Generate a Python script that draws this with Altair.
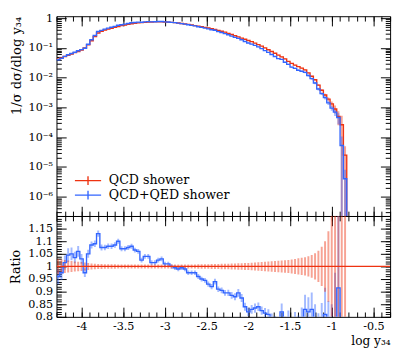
import altair as alt
import numpy as np
import pandas as pd

# ---------------- data ----------------
series_names = ["QCD shower", "QCD+QED shower"]
series_colors = ["#ee3311", "#3366ff"]

first_edge = -4.3
bin_width = 0.04
x_domain = [-4.3, -0.3]
y_domain_top = [2.26e-7, 1.16]
y_domain_ratio = [0.8, 1.2]

# 1/sigma dsigma/dlog y34, QCD shower (per bin)
qcd = [0.0417, 0.0457, 0.0513, 0.0562, 0.0617, 0.0692, 0.0759, 0.0851, 0.100, 0.126,
       0.174, 0.240, 0.316, 0.363, 0.398, 0.427, 0.457, 0.490, 0.525, 0.562,
       0.589, 0.617, 0.646, 0.668, 0.692, 0.708, 0.724, 0.733, 0.741, 0.746,
       0.750, 0.748, 0.741, 0.733, 0.724, 0.708, 0.684, 0.661, 0.638, 0.617,
       0.589, 0.562, 0.537, 0.513, 0.490, 0.468, 0.442, 0.417, 0.389, 0.363,
       0.339, 0.309, 0.282, 0.257, 0.234, 0.214, 0.195, 0.178, 0.162, 0.145,
       0.129, 0.115, 0.100, 0.0871, 0.0759, 0.0661, 0.0575, 0.0501, 0.0427, 0.0355,
       0.0302, 0.0263, 0.0234, 0.0209, 0.0182, 0.0145, 0.0112, 0.00851, 0.00562, 0.00380,
       0.00263, 0.00191, 0.00132, 0.000891, 0.000501, 0.000263, 0.0000251]

# ratio (QCD+QED) / QCD per bin
ratio_qed = [0.96, 0.975, 1.015, 1.045, 1.05, 1.035, 1.06, 1.03, 0.975, 1.05,
             1.085, 1.09, 1.13, 1.075, 1.075, 1.08, 1.08, 1.085, 1.10, 1.07,
             1.07, 1.075, 1.08, 1.065, 1.06, 1.025, 1.04, 1.04, 1.015, 1.015,
             1.025, 1.03, 1.01, 1.01, 1.0, 0.995, 0.99, 0.995, 0.99, 0.975,
             0.975, 0.975, 0.96, 0.95, 0.945, 0.93, 0.92, 0.94, 0.91, 0.905,
             0.895, 0.895, 0.885, 0.88, 0.895, 0.875, 0.84, 0.82, 0.83, 0.835,
             0.84, 0.825, 0.815, 0.81, 0.79, 0.78, 0.76, 0.82, 0.77, 0.79,
             0.75, 0.78, 0.76, 0.79, 0.83, 0.82, 0.83, 0.78, 0.74, 0.77,
             0.81, 0.75, 0.72, 0.78, 0.915, 0.2, 0.16]

# relative statistical errors
qcd_err = [0.030, 0.028, 0.026, 0.024, 0.022, 0.020, 0.019, 0.018, 0.016, 0.014,
           0.012, 0.011, 0.010, 0.010, 0.009, 0.009, 0.009, 0.009, 0.008, 0.008,
           0.008, 0.008, 0.008, 0.008, 0.008, 0.008, 0.008, 0.008, 0.008, 0.008,
           0.008, 0.008, 0.008, 0.008, 0.008, 0.008, 0.008, 0.008, 0.008, 0.008,
           0.008, 0.008, 0.009, 0.009, 0.009, 0.009, 0.010, 0.010, 0.010, 0.011,
           0.011, 0.011, 0.012, 0.012, 0.013, 0.013, 0.014, 0.014, 0.015, 0.016,
           0.017, 0.018, 0.019, 0.020, 0.021, 0.022, 0.023, 0.024, 0.025, 0.026,
           0.028, 0.030, 0.032, 0.034, 0.036, 0.040, 0.045, 0.052, 0.062, 0.078,
           0.10, 0.14, 0.20, 0.30, 0.50, 1.0, 1.0]
qed_err = [0.032, 0.030, 0.028, 0.026, 0.024, 0.022, 0.020, 0.019, 0.017, 0.015,
           0.013, 0.012, 0.011, 0.011, 0.010, 0.010, 0.010, 0.010, 0.009, 0.009,
           0.009, 0.009, 0.009, 0.009, 0.009, 0.009, 0.009, 0.009, 0.009, 0.009,
           0.009, 0.009, 0.009, 0.009, 0.009, 0.009, 0.009, 0.009, 0.009, 0.009,
           0.009, 0.009, 0.010, 0.010, 0.010, 0.011, 0.011, 0.012, 0.012, 0.013,
           0.013, 0.014, 0.015, 0.016, 0.017, 0.018, 0.019, 0.020, 0.021, 0.022,
           0.020, 0.020, 0.025, 0.025, 0.030, 0.030, 0.035, 0.040, 0.040, 0.045,
           0.050, 0.050, 0.060, 0.060, 0.070, 0.070, 0.080, 0.090, 0.10, 0.11,
           0.13, 0.15, 0.18, 0.25, 0.40, 1.0, 1.0]

x_major = [-4.0, -3.5, -3.0, -2.5, -2.0, -1.5, -1.0, -0.5]
x_minor = [round(-4.3 + 0.1 * k, 2) for k in range(41)]
y_major_top = [1e-6, 1e-5, 1e-4, 1e-3, 1e-2, 1e-1, 1.0]
y_minor_top = [m * 10.0 ** e for e in range(-7, 1) for m in range(2, 10)
               if y_domain_top[0] <= m * 10.0 ** e <= y_domain_top[1]]
r_major = [round(0.8 + 0.05 * k, 2) for k in range(9)]
r_minor = [round(0.8 + 0.01 * k, 2) for k in range(41)]

# ---------------- tables ----------------
n = len(qcd)
qcd_a = np.array(qcd)
rat_a = np.array(ratio_qed)
qed_a = qcd_a * rat_a
e_qcd = np.array(qcd_err)
e_qed = np.array(qed_err)
lo_edge = first_edge + bin_width * np.arange(n)
centers = lo_edge + bin_width / 2
edges = first_edge + bin_width * np.arange(n + 1)
TINY = 1e-10

def step_rows(vals, name, floor):
    xs = list(edges) + [edges[-1]]
    ys = list(vals) + [vals[-1], floor]
    return pd.DataFrame({"x": xs, "y": ys, "series": name, "ord": range(len(xs))})

def err_rows(vals, err, name):
    return pd.DataFrame({"x": centers,
                         "y": np.maximum(vals * (1 - err), TINY),
                         "y2": vals * (1 + err),
                         "series": name})

# top panel: blue drawn over red
top_steps = pd.concat([step_rows(qcd_a, series_names[0], TINY),
                       step_rows(qed_a, series_names[1], TINY)])
top_errs = pd.concat([err_rows(qcd_a, e_qcd, series_names[0]),
                      err_rows(qed_a, e_qed, series_names[1])])

# ratio panel: red reference line drawn over blue
r_blue = pd.DataFrame({"x": list(edges), "y": list(rat_a) + [rat_a[-1]],
                       "series": series_names[1], "ord": range(n + 1)})
r_red = pd.DataFrame({"x": x_domain, "y": [1.0, 1.0],
                      "series": series_names[0], "ord": [0, 1]})
r_steps = pd.concat([r_blue, r_red])
r_errs = pd.concat([err_rows(rat_a, e_qed, series_names[1]),
                    err_rows(np.ones(n), e_qcd, series_names[0])])

# ---------------- helpers ----------------
FONT = "DejaVu Serif"
xs = alt.Scale(domain=x_domain, nice=False, zero=False)
ys_top = alt.Scale(type="log", domain=y_domain_top, nice=False)
ys_rat = alt.Scale(domain=y_domain_ratio, nice=False, zero=False)
cscale = alt.Scale(domain=series_names, range=series_colors)

MAJ, MIN = 10, 5

def ax(orient, values, size, **kw):
    base = dict(orient=orient, values=values, tickSize=size, offset=-size,
                domain=False, grid=False, ticks=True, tickColor="black",
                tickWidth=1)
    if "labels" not in kw:
        base["labels"] = False
    if "title" not in kw:
        base["title"] = None
    base.update(kw)
    return alt.Axis(**base)

top_y_label = ("datum.value >= 1 ? '1' : '10' + "
               "['\u2070','\u207b\u00b9','\u207b\u00b2','\u207b\u00b3','\u207b\u2074',"
               "'\u207b\u2075','\u207b\u2076','\u207b\u2077'][round(-log(datum.value)/LN10)]")

legend_def = alt.Legend(orient="none", legendX=26, legendY=163,
                        title=None, symbolType="M-3,0H3M0,-1V1",
                        symbolSize=81, symbolStrokeWidth=1.4, symbolOpacity=1,
                        labelOffset=15, rowPadding=0, padding=0,
                        labelFont=FONT, labelFontSize=13,
                        labelColor="black")

# ---------------- top panel ----------------
t_err = alt.Chart(top_errs).mark_rule(strokeWidth=2, opacity=0.45, clip=True).encode(
    x=alt.X("x:Q", scale=xs, axis=ax("bottom", x_major, MAJ)),
    y=alt.Y("y:Q", scale=ys_top,
            axis=ax("left", y_major_top, MAJ, labels=True, labelExpr=top_y_label,
                    labelPadding=4, labelOverlap=False, labelFontSize=11.5,
                    title="1/\u03c3 d\u03c3/dlog y\u2083\u2084",
                    titleAnchor="end", titlePadding=5, titleFontSize=13.5)),
    y2="y2:Q",
    color=alt.Color("series:N", scale=cscale, legend=legend_def),
)
t_line = alt.Chart(top_steps).mark_line(interpolate="step-after", strokeWidth=1.4, clip=True).encode(
    x=alt.X("x:Q", scale=xs, axis=ax("bottom", x_minor, MIN)),
    y=alt.Y("y:Q", scale=ys_top, axis=ax("left", y_minor_top, MIN)),
    order="ord:Q",
    color=alt.Color("series:N", scale=cscale, legend=legend_def),
)
t_h1 = alt.Chart(top_steps).mark_point(opacity=0).encode(
    x=alt.X("x:Q", scale=xs, axis=ax("top", x_major, MAJ)),
    y=alt.Y("y:Q", scale=ys_top, axis=ax("right", y_major_top, MAJ)),
)
t_h2 = alt.Chart(top_steps).mark_point(opacity=0).encode(
    x=alt.X("x:Q", scale=xs, axis=ax("top", x_minor, MIN)),
    y=alt.Y("y:Q", scale=ys_top, axis=ax("right", y_minor_top, MIN)),
)
top = alt.layer(t_err, t_line, t_h1, t_h2).resolve_axis(
    x="independent", y="independent").properties(width=344, height=206)

# ---------------- ratio panel ----------------
r_err_ch = alt.Chart(r_errs).mark_rule(strokeWidth=2, opacity=0.45, clip=True).encode(
    x=alt.X("x:Q", scale=xs,
            axis=ax("bottom", x_major, MAJ, labels=True,
                    labelExpr="replace(format(datum.value, '.1~f'), '\u2212', '-')",
                    labelPadding=4, labelFlush=False, labelFontSize=11.5,
                    title="log y\u2083\u2084", titleAnchor="end", titlePadding=3,
                    titleFontSize=12.5)),
    y=alt.Y("y:Q", scale=ys_rat,
            axis=ax("left", r_major, MAJ, labels=True,
                    labelExpr="datum.value > 1.19 ? '' : format(datum.value, '.2~f')",
                    labelPadding=4, labelOverlap=False, labelFontSize=11.5,
                    title="Ratio", titlePadding=6, titleFontSize=13)),
    y2="y2:Q",
    color=alt.Color("series:N", scale=cscale, legend=None),
)
r_line = alt.Chart(r_steps).mark_line(interpolate="step-after", strokeWidth=1.4, clip=True).encode(
    x=alt.X("x:Q", scale=xs, axis=ax("bottom", x_minor, MIN)),
    y=alt.Y("y:Q", scale=ys_rat, axis=ax("left", r_minor, MIN)),
    order="ord:Q",
    color=alt.Color("series:N", scale=cscale, legend=None),
)
r_h1 = alt.Chart(r_steps).mark_point(opacity=0).encode(
    x=alt.X("x:Q", scale=xs, axis=ax("top", x_major, MAJ)),
    y=alt.Y("y:Q", scale=ys_rat, axis=ax("right", r_major, MAJ)),
)
r_h2 = alt.Chart(r_steps).mark_point(opacity=0).encode(
    x=alt.X("x:Q", scale=xs, axis=ax("top", x_minor, MIN)),
    y=alt.Y("y:Q", scale=ys_rat, axis=ax("right", r_minor, MIN)),
)
ratio = alt.layer(r_err_ch, r_line, r_h1, r_h2).resolve_axis(
    x="independent", y="independent").properties(width=344, height=104)

chart = alt.vconcat(top, ratio, spacing=0, bounds="flush").properties(
    padding={"left": 0, "top": -4, "right": 0, "bottom": 0}
).configure_view(stroke="black", strokeWidth=1).configure_axis(
    labelFont=FONT, titleFont=FONT, labelFontSize=11, titleFontSize=12,
    titleFontWeight="normal", labelColor="black", titleColor="black"
)

chart.save("out.html", embed_options={"renderer": "svg", "actions": False})
